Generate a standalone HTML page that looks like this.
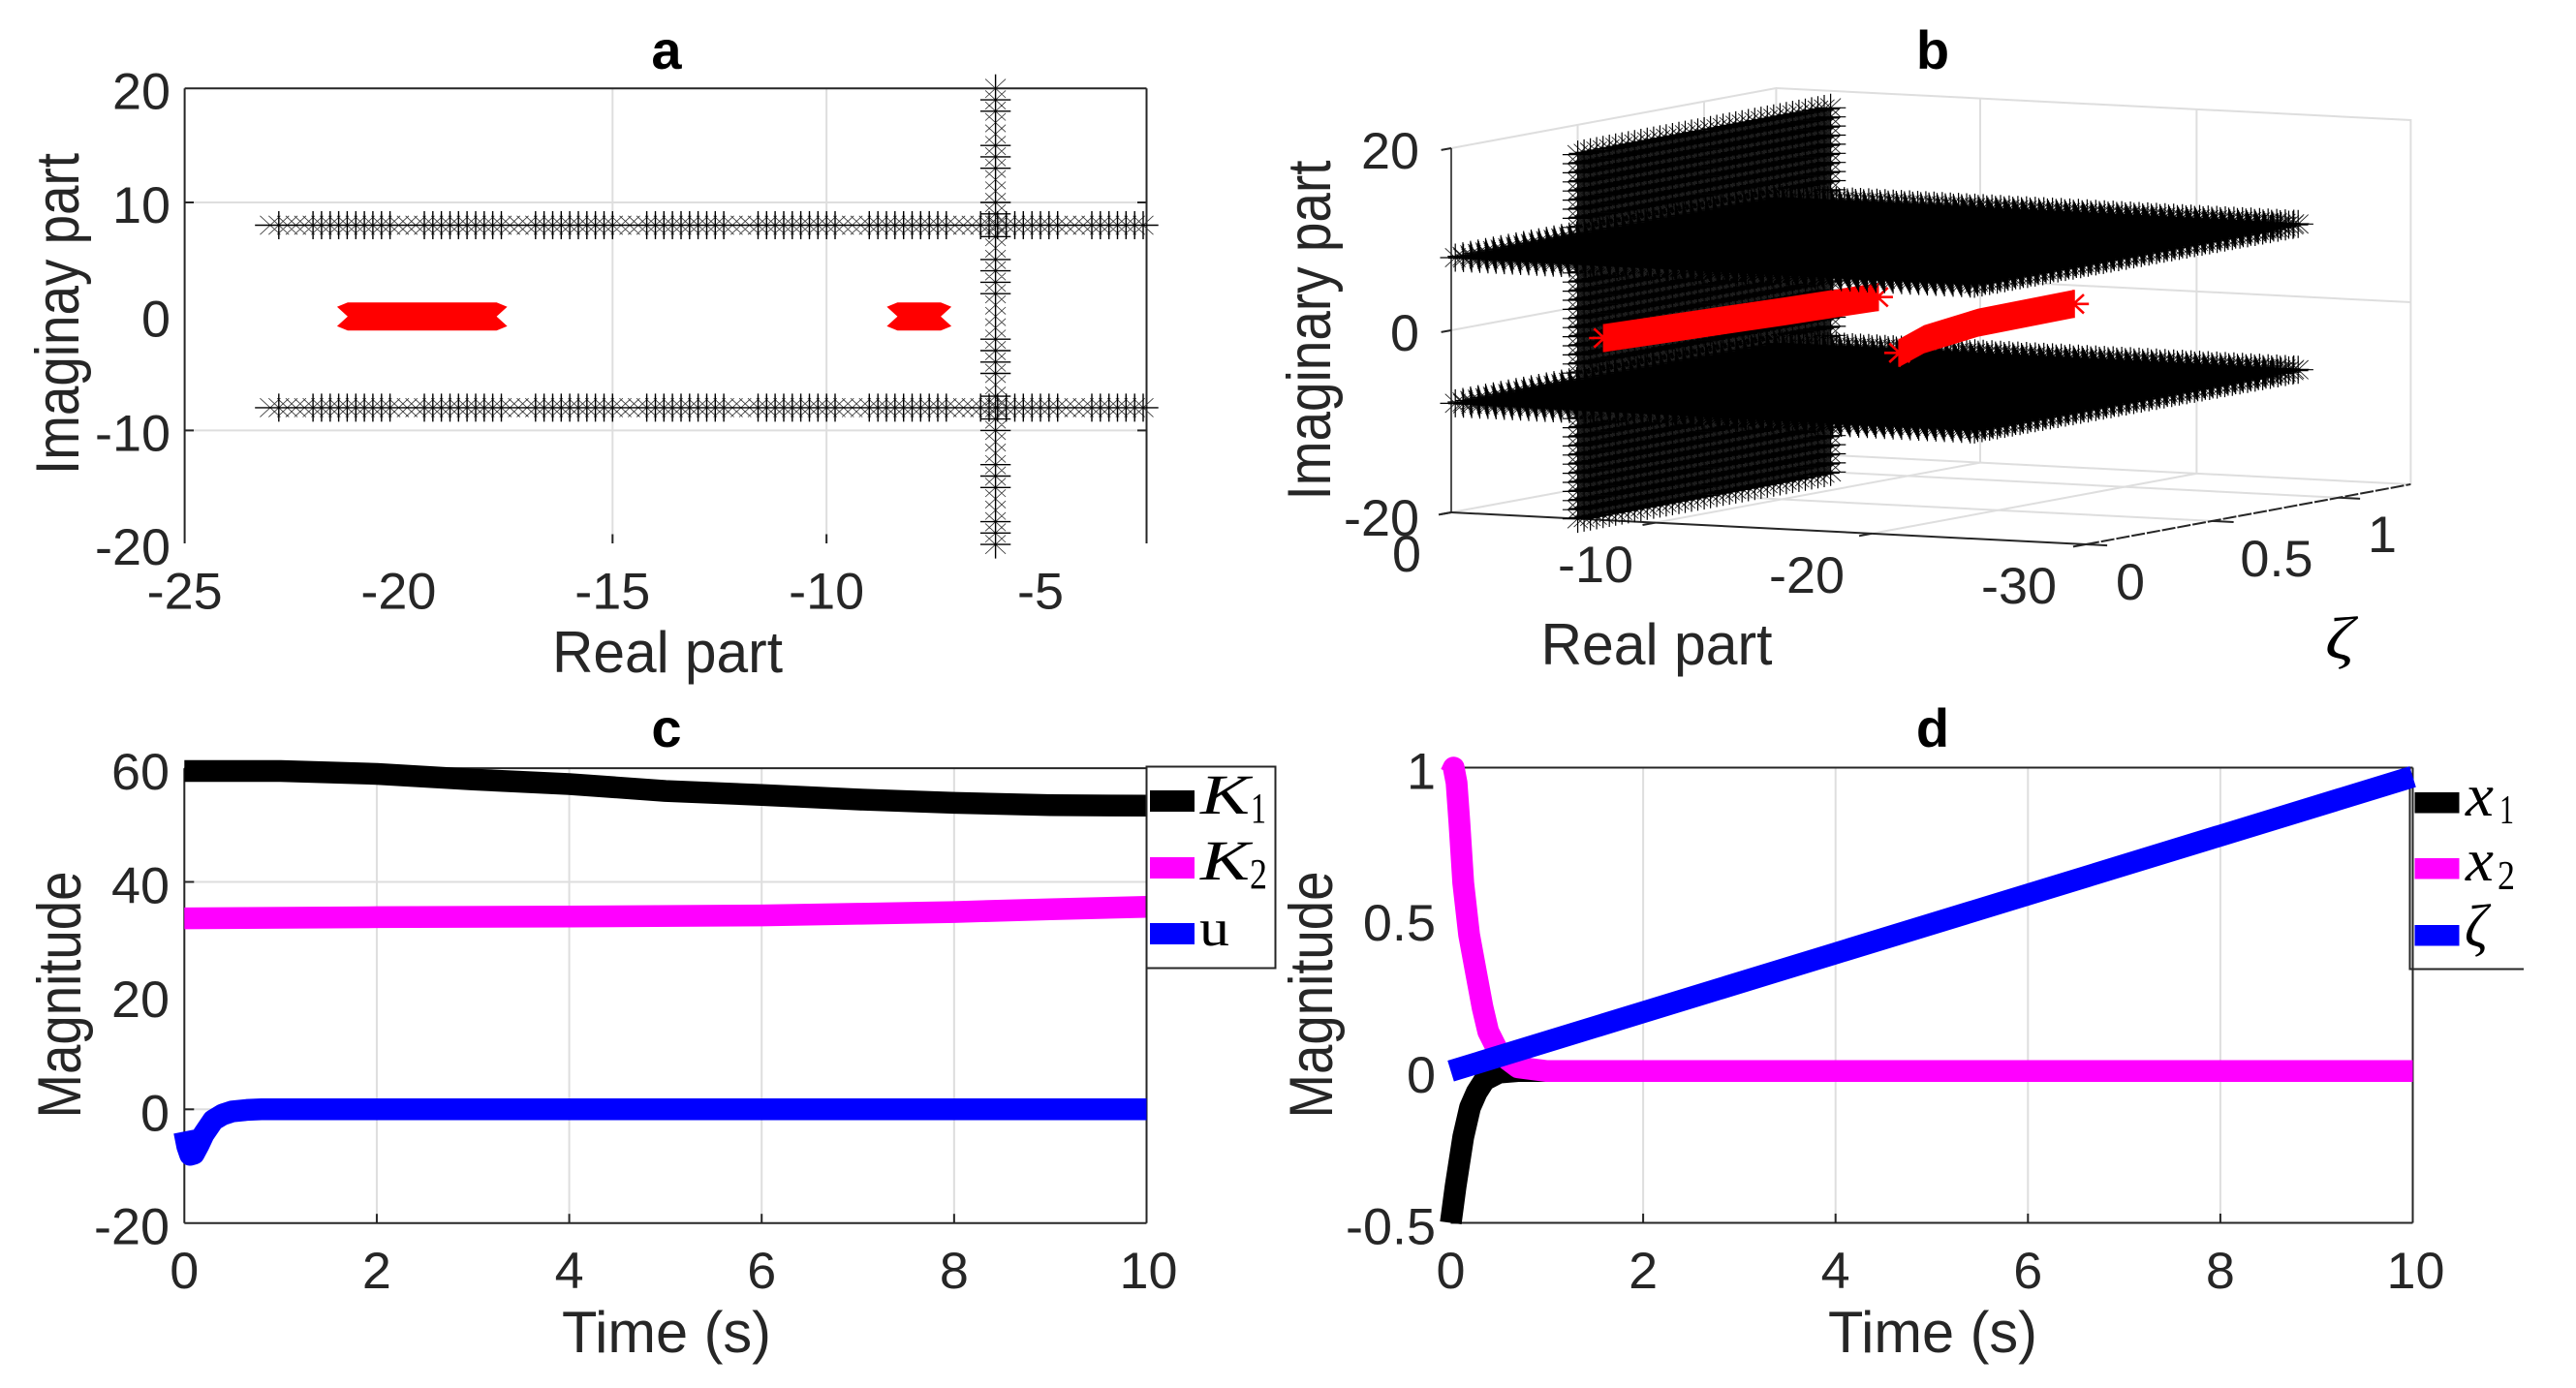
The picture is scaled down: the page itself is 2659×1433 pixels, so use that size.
<!DOCTYPE html>
<html lang="en">
<head>
<meta charset="utf-8">
<title>Eigenvalue and response plots</title>
<style>
html,body{margin:0;padding:0;background:#fff;}
svg{display:block;}
text{font-family:"Liberation Sans",sans-serif;fill:#262626;}
.ttl{font-weight:bold;font-size:56px;fill:#000;text-anchor:middle;}
.lab{font-size:60px;text-anchor:middle;}
.rot{font-size:63px;text-anchor:middle;}
.leg{font-family:"Liberation Serif",serif;fill:#000;}
.it{font-style:italic;}
</style>
</head>
<body>
<svg id="fig" xmlns="http://www.w3.org/2000/svg" width="2659" height="1433" viewBox="0 0 2659 1433">
<rect width="2659" height="1433" fill="#fff"/>
<g id="pa"></g>
<g id="pb"></g>
<g id="pc"></g>
<g id="pd"></g>

<g>
<text class="ttl" x="688" y="71">a</text>
<text class="lab" x="689" y="694" textLength="238" lengthAdjust="spacingAndGlyphs">Real part</text>
<text class="rot" transform="translate(81,324) rotate(-90)" textLength="332" lengthAdjust="spacingAndGlyphs">Imaginay part</text>
</g>
<g>
<text class="ttl" x="1995" y="71">b</text>
<text class="lab" x="1710" y="686" textLength="239" lengthAdjust="spacingAndGlyphs">Real part</text>
<text class="rot" transform="translate(1373,341) rotate(-90)" textLength="351" lengthAdjust="spacingAndGlyphs">Imaginary part</text>
<text class="leg it" x="2400" y="680" font-size="62" textLength="30" lengthAdjust="spacingAndGlyphs">ζ</text>
</g>
<g>
<text class="ttl" x="688" y="771">c</text>
<text class="lab" x="688" y="1396" textLength="216" lengthAdjust="spacingAndGlyphs">Time (s)</text>
<text class="rot" transform="translate(83,1027) rotate(-90)" textLength="255" lengthAdjust="spacingAndGlyphs">Magnitude</text>
</g>
<g>
<text class="ttl" x="1995" y="771">d</text>
<text class="lab" x="1995" y="1396" textLength="216" lengthAdjust="spacingAndGlyphs">Time (s)</text>
<text class="rot" transform="translate(1375,1027) rotate(-90)" textLength="255" lengthAdjust="spacingAndGlyphs">Magnitude</text>
</g>

<g id="legend-c">
<rect x="1183.5" y="791.5" width="133" height="208" fill="#fff" stroke="#262626" stroke-width="2"/>
<rect x="1187" y="816" width="46" height="22" fill="#000"/>
<rect x="1187" y="885" width="46" height="22" fill="#f0f"/>
<rect x="1187" y="953" width="46" height="22" fill="#00f"/>
<text class="leg it" x="1239" y="840" font-size="58" textLength="51" lengthAdjust="spacingAndGlyphs">K</text>
<text class="leg" x="1291" y="849" font-size="44" textLength="16" lengthAdjust="spacingAndGlyphs">1</text>
<text class="leg it" x="1239" y="908" font-size="58" textLength="51" lengthAdjust="spacingAndGlyphs">K</text>
<text class="leg" x="1290" y="917" font-size="44" textLength="18" lengthAdjust="spacingAndGlyphs">2</text>
<text class="leg" x="1238" y="976" font-size="54" textLength="31" lengthAdjust="spacingAndGlyphs">u</text>
</g>
<g id="legend-d">
<rect x="2488" y="800" width="117" height="200" fill="#fff"/>
<path d="M2487.5 792V1000.5H2605" fill="none" stroke="#262626" stroke-width="2"/>
<rect x="2492.5" y="818" width="46" height="21.5" fill="#000"/>
<rect x="2492.5" y="886" width="46" height="21.5" fill="#f0f"/>
<rect x="2492.5" y="955" width="46" height="21.5" fill="#00f"/>
<text class="leg it" x="2545" y="842" font-size="62" textLength="29" lengthAdjust="spacingAndGlyphs">x</text>
<text class="leg" x="2580" y="850" font-size="42" textLength="15" lengthAdjust="spacingAndGlyphs">1</text>
<text class="leg it" x="2545" y="909" font-size="62" textLength="29" lengthAdjust="spacingAndGlyphs">x</text>
<text class="leg" x="2578" y="918" font-size="42" textLength="18" lengthAdjust="spacingAndGlyphs">2</text>
<text class="leg it" x="2544" y="977" font-size="62" textLength="24" lengthAdjust="spacingAndGlyphs">ζ</text>
</g>
</svg>

<script>
/* ---------- panel a data ---------- */
const poleRowReal = [-23,-22.8,-22.6,-22.4,-22.2,-22,-21.8,-21.6,-21.4,-21.2,-21,-20.8,-20.6,-20.4,-20.2,-20,-19.8,-19.6,-19.4,-19.2,-19,-18.8,-18.6,-18.4,-18.2,-18,-17.8,-17.6,-17.4,-17.2,-17,-16.8,-16.6,-16.4,-16.2,-16,-15.8,-15.6,-15.4,-15.2,-15,-14.8,-14.6,-14.4,-14.2,-14,-13.8,-13.6,-13.4,-13.2,-13,-12.8,-12.6,-12.4,-12.2,-12,-11.8,-11.6,-11.4,-11.2,-11,-10.8,-10.6,-10.4,-10.2,-10,-9.8,-9.6,-9.4,-9.2,-9,-8.8,-8.6,-8.4,-8.2,-8,-7.8,-7.6,-7.4,-7.2,-7,-6.8,-6.6,-6.4,-6.2,-6,-5.8,-5.6,-5.4,-5.2,-5,-4.8,-4.6,-4.4,-4.2,-4,-3.8,-3.6,-3.4,-3.2,-3,-2.8,-2.6];
const poleRowImag = [8,-8];
const poleColumnReal = -6.05;
const poleColumnImag = [20,19,18,17,16,15,14,13,12,11,10,9,8,7,6,5,4,3,2,1,0,-1,-2,-3,-4,-5,-6,-7,-8,-9,-10,-11,-12,-13,-14,-15,-16,-17,-18,-19,-20];
const poleColumnBarImag = [19,18,15,14,13,10,9,7,5,4,3,2,-2,-3,-4,-5,-7,-9,-10,-13,-14,-15,-18,-19,-20];
const redBandsReal = [[-21.1,-17.8],[-8.25,-7.42]];
const aXTicks = [-25,-20,-15,-10,-5];
const aYTicks = [20,10,0,-10,-20];
const aXGrid = [-15,-10];
const aYGrid = [10,-10];

/* ---------- panel b data ---------- */
const bXTicks = [0,-10,-20,-30];
const bZTicks = [0,0.5,1];
const bYTicks = [20,0,-20];
const planeReal = -6.2;
const planeImag = [20,19,18,17,16,15,14,13,12,11,10,9,8,7,6,5,4,3,2,1,0,-1,-2,-3,-4,-5,-6,-7,-8,-9,-10,-11,-12,-13,-14,-15,-16,-17,-18,-19,-20];
const planeZeta = [0,0.025,0.05,0.075,0.1,0.125,0.15,0.175,0.2,0.225,0.25,0.275,0.3,0.325,0.35,0.375,0.4,0.425,0.45,0.475,0.5,0.525,0.55,0.575,0.6,0.625,0.65,0.675,0.7,0.725,0.75,0.775,0.8,0.825,0.85,0.875,0.9,0.925,0.95,0.975,1];
const sheetReal = [-0.2,-0.6,-1,-1.4,-1.8,-2.2,-2.6,-3,-3.4,-3.8,-4.2,-4.6,-5,-5.4,-5.8,-6.2,-6.6,-7,-7.4,-7.8,-8.2,-8.6,-9,-9.4,-9.8,-10.2,-10.6,-11,-11.4,-11.8,-12.2,-12.6,-13,-13.4,-13.8,-14.2,-14.6,-15,-15.4,-15.8,-16.2,-16.6,-17,-17.4,-17.8,-18.2,-18.6,-19,-19.4,-19.8,-20.2,-20.6,-21,-21.4,-21.8,-22.2,-22.6,-23,-23.4,-23.8,-24.2,-24.6,-24.8];
const sheetZeta = [0,0.03,0.06,0.09,0.12,0.15,0.18,0.21,0.24,0.27,0.3,0.33,0.36,0.39,0.42,0.45,0.48,0.51,0.54,0.57,0.6,0.63,0.66,0.69,0.72,0.75,0.78,0.81,0.84,0.87,0.9,0.93,0.96,0.99,1.02,1.05,1.08,1.11,1.14,1.17,1.2,1.23,1.26,1.28];
const sheetImag = [-8,8];
const redAReal = [-7.5,-8.2,-8.9,-9.5];
const redAZeta = [0,0.3,0.6,0.92];
const redBReal = [-21.3,-19.5,-18.2,-18];
const redBZeta = [0,0.25,0.575,0.97];

/* ---------- panel c data ---------- */
const cXTicks = [0,2,4,6,8,10];
const cYTicks = [60,40,20,0,-20];
const k1Time = [0,1,2,3,4,5,6,7,8,9,10];
const k1Values = [59.5,59.5,59,58,57.2,56,55.3,54.5,53.9,53.5,53.4];
const k2Time = [0,2,4,6,7,8,9,10];
const k2Values = [33.6,33.8,33.9,34.1,34.4,34.7,35.2,35.6];
const uTime = [0,0.03,0.06,0.1,0.15,0.2,0.3,0.4,0.5,0.65,0.8,1,10];
const uValues = [-3.9,-6.5,-8,-7.8,-6.2,-4.4,-1.9,-0.9,-0.35,-0.1,0,0,0];

/* ---------- panel d data ---------- */
const dXTicks = [0,2,4,6,8,10];
const dYTicks = [1,0.5,0,-0.5];
const x1Time = [0,0.05,0.13,0.2,0.27,0.35,0.5,0.7,1,10];
const x1Values = [-0.5,-0.38,-0.217,-0.12,-0.07,-0.03,-0.005,0,0,0];
const x2Time = [0,0.03,0.06,0.09,0.13,0.19,0.26,0.33,0.39,0.5,0.7,1,10];
const x2Values = [0.98,1,0.95,0.82,0.62,0.45,0.33,0.21,0.13,0.06,0.012,0,0];
const zetaTime = [0,2,4,6,8,10];
const zetaValues = [0,0.194,0.388,0.582,0.776,0.97];

const NS = 'http://www.w3.org/2000/svg';
const GRID = '#dedede', AXIS = '#262626';

function make(tag, parent, name, attrs) {
  const el = document.createElementNS(NS, tag);
  for (const k in attrs) el.setAttribute(k, attrs[k]);
  
  
  parent.appendChild(el);
  return el;
}
function seg(parent, name, x1, y1, x2, y2, color, w, extra) {
  return make('line', parent, name, Object.assign({x1:x1, y1:y1, x2:x2, y2:y2, stroke:color, 'stroke-width':w}, extra || {}));
}
const CW = {'-':0.333, '.':0.278};
function tickText(parent, name, str, x, y, anchor) {
  let w = 0;
  for (const c of str) w += (CW[c] || 0.556);
  const el = make('text', parent, name, {x:x, y:y, 'font-size':53, 'text-anchor':anchor, textLength:(w * 54).toFixed(1), lengthAdjust:'spacingAndGlyphs'});
  el.textContent = str;
  return el;
}
function polyPath(pts) {
  return pts.map((p, i) => (i ? 'L' : 'M') + p[0].toFixed(1) + ' ' + p[1].toFixed(1)).join('');
}
function diagArms(px, py) {
  return 'M' + (px-10.5).toFixed(1) + ' ' + (py-9.7).toFixed(1) + 'l21 19.4M' + (px-10.5).toFixed(1) + ' ' + (py+9.7).toFixed(1) + 'l21 -19.4';
}
function crossArms(px, py) {
  return 'M' + px.toFixed(1) + ' ' + (py-14.5).toFixed(1) + 'v29M' + (px-15.7).toFixed(1) + ' ' + py.toFixed(1) + 'h31.4';
}

/* ---------- panel a ---------- */
(function () {
  const g = document.getElementById('pa');
  const X = v => 190.6 + (v + 25) * 44.17;
  const Y = v => 326.7 - v * 11.77;
  const R = 1183.5, T = 91.3, B = 561;
  aXGrid.forEach(v => {
    seg(g, 'a-x-gridline', X(v), T, X(v), B, GRID, 2);
    seg(g, 'a-x-tick', X(v), B - 9.5, X(v), B, AXIS, 2);
  });
  aYGrid.forEach(v => {
    seg(g, 'a-y-gridline', 190.6, Y(v), R, Y(v), GRID, 2);
    seg(g, 'a-y-tick-left', 190.6, Y(v), 200, Y(v), AXIS, 2);
    seg(g, 'a-y-tick-right', R - 9.5, Y(v), R, Y(v), AXIS, 2);
  });
  seg(g, 'a-top-axis-line', 190.6, T, R, T, AXIS, 2);
  seg(g, 'a-y-axis-line', 190.6, T, 190.6, B, AXIS, 2);
  seg(g, 'a-right-axis-line', R, T, R, B, AXIS, 2);

  let diag = '', strong = '';
  poleRowImag.forEach(im => {
    poleRowReal.forEach((re, i) => {
      diag += diagArms(X(re), Y(im));
      const k = (i - 1 + 130) % 13;
      strong += 'M' + (X(re)-15.7).toFixed(1) + ' ' + Y(im).toFixed(1) + 'h31.4';
      if (i > 0 && !(k >= 1 && k <= 3)) strong += 'M' + X(re).toFixed(1) + ' ' + (Y(im)-14.5).toFixed(1) + 'v29';
    });
  });
  poleColumnImag.forEach(im => {
    const px = X(poleColumnReal);
    diag += diagArms(px, Y(im));
    strong += 'M' + px.toFixed(1) + ' ' + (Y(im)-14.5).toFixed(1) + 'v29';
    if (poleColumnBarImag.indexOf(im) >= 0) strong += 'M' + (px-15.7).toFixed(1) + ' ' + Y(im).toFixed(1) + 'h31.4';
  });
  make('path', g, 'a-black-pole-markers-diagonals', {d:diag, fill:'none', stroke:'#333', 'stroke-width':0.8});
  make('path', g, 'a-black-pole-markers-arms', {d:strong, fill:'none', stroke:'#000', 'stroke-width':1.4});

  redBandsReal.forEach(r => {
    const s = X(r[0]), e = X(r[1]), c = Y(0);
    const pts = [[s-4,c-14.5],[e+4,c-14.5],[e+15,c-10],[e+4,c],[e+15,c+10],[e+4,c+14.5],[s-4,c+14.5],[s-15,c+10],[s-4,c],[s-15,c-10]];
    make('polygon', g, 'a-red-pole-band', {points:pts.map(p => p[0].toFixed(1) + ',' + p[1].toFixed(1)).join(' '), fill:'#f00'});
  });

  aXTicks.forEach(v => tickText(g, 'a-x-tick-label', String(v), X(v), 628.5, 'middle'));
  aYTicks.forEach(v => tickText(g, 'a-y-tick-label', String(v), 176, Y(v) + 21, 'end'));
})();

/* ---------- panel b ---------- */
(function () {
  const g = document.getElementById('pb');
  const ZMAX = 1.285;
  function U(x) {
    const a = Math.abs(x);
    if (a <= 10) return a / 10 * 0.3215;
    if (a <= 20) return 0.3215 + (a - 10) / 10 * 0.3411;
    return 0.6626 + (a - 20) / 10 * 0.3374;
  }
  function P(x, z, y) {
    const u = U(x);
    return [1498 + u * 655 + z * 261, 341 - y * 9.4 + u * 33 - z * 48.25];
  }
  function polyline(name, pts, color, w, extra) {
    return make('path', g, name, Object.assign({d:polyPath(pts), fill:'none', stroke:color, 'stroke-width':w}, extra || {}));
  }
  const xl = bXTicks[bXTicks.length - 1];
  polyline('b-top-wall-edge', [P(0,0,20),P(0,ZMAX,20),P(xl,ZMAX,20),P(xl,ZMAX,-20)], GRID, 2);
  polyline('b-zero-wall-line', [P(0,0,0),P(0,ZMAX,0),P(xl,ZMAX,0)], GRID, 2);
  polyline('b-floor-back-edge', [P(0,0,-20),P(0,ZMAX,-20),P(xl,ZMAX,-20)], GRID, 2);
  polyline('b-back-corner-line', [P(0,ZMAX,20),P(0,ZMAX,-20)], GRID, 2);
  bXTicks.slice(1, 3).forEach(v => {
    polyline('b-back-wall-gridline', [P(v,ZMAX,20),P(v,ZMAX,-20)], GRID, 2);
    polyline('b-floor-x-gridline', [P(v,0,-20),P(v,ZMAX,-20)], GRID, 2);
  });
  bZTicks.slice(1).forEach(v => {
    polyline('b-side-wall-gridline', [P(0,v,20),P(0,v,-20)], GRID, 2);
    polyline('b-floor-z-gridline', [P(0,v,-20),P(xl,v,-20)], GRID, 2);
  });

  polyline('b-y-axis-line', [P(0,0,20),P(0,0,-20)], AXIS, 1.6);
  polyline('b-x-axis-line', [P(0,0,-20),P(xl,0,-20)], AXIS, 2);
  polyline('b-zeta-axis-line', [P(xl,0,-20),P(xl,ZMAX,-20)], AXIS, 2, {'stroke-dasharray':'14 2'});
  bYTicks.forEach(v => polyline('b-y-tick', [P(0,0,v),P(0,-0.04,v)], AXIS, 2));
  bXTicks.forEach(v => polyline('b-x-tick', [P(v,0,-20),P(v,-0.05,-20)], AXIS, 2));
  bZTicks.forEach(v => polyline('b-zeta-tick', [P(xl,v,-20),P(xl-1,v,-20)], AXIS, 2));

  function markerField(name, xs, zs, ys) {
    let diag = '', cross = '';
    ys.forEach(y => xs.forEach(x => zs.forEach(z => {
      const p = P(x, z, y);
      diag += diagArms(p[0], p[1]);
      cross += crossArms(p[0], p[1]);
    })));
    make('path', g, name + '-diagonals', {d:diag, fill:'none', stroke:'#222', 'stroke-width':0.9});
    make('path', g, name + '-arms', {d:cross, fill:'none', stroke:'#000', 'stroke-width':1.2});
  }
  const zA = planeZeta[0], zB = planeZeta[planeZeta.length - 1];
  const imA = planeImag[0], imB = planeImag[planeImag.length - 1];
  make('path', g, 'b-vertical-pole-plane-core', {d:polyPath([P(planeReal,zA,imA),P(planeReal,zB,imA),P(planeReal,zB,imB),P(planeReal,zA,imB)]) + 'Z', fill:'#141414'});
  markerField('b-vertical-pole-plane', [planeReal], planeZeta, planeImag);
  markerField('b-lower-pole-sheet', sheetReal, sheetZeta, [sheetImag[0]]);

  function redBand(name, reals, zetas) {
    const pts = reals.map((r, i) => P(r, zetas[i], 0));
    const top = pts.map(p => [p[0], p[1] - 14.5]);
    const bottom = pts.map(p => [p[0], p[1] + 14.5]).reverse();
    make('path', g, name, {d:polyPath(top.concat(bottom)) + 'Z', fill:'#f00'});
    [pts[0], pts[pts.length - 1]].forEach(p => {
      make('path', g, name + '-end-marker', {d:diagArms(p[0], p[1]) + crossArms(p[0], p[1]), fill:'none', stroke:'#f00', 'stroke-width':2.6});
    });
  }
  redBand('b-red-pole-band-right', redBReal, redBZeta);
  redBand('b-red-pole-band-left', redAReal, redAZeta);
  markerField('b-upper-pole-sheet', sheetReal, sheetZeta, [sheetImag[1]]);

  const xOffset = [[1452,590],[1647,601],[1865,612],[2084,623]];
  bXTicks.forEach((v, i) => tickText(g, 'b-x-tick-label', String(v), xOffset[i][0], xOffset[i][1], 'middle'));
  const zOffset = [[2199,619],[2350,595],[2459,570]];
  bZTicks.forEach((v, i) => tickText(g, 'b-zeta-tick-label', String(v), zOffset[i][0], zOffset[i][1], 'middle'));
  bYTicks.forEach(v => tickText(g, 'b-y-tick-label', String(v), 1465, 341 - v * 9.4 + (v === -20 ? 24 : 21), 'end'));
})();

/* ---------- panel c ---------- */
function drawLine(g, name, times, values, X, Y, color, w) {
  return make('path', g, name, {d:polyPath(times.map((t, i) => [X(t), Y(values[i])])), fill:'none', stroke:color, 'stroke-width':w, 'stroke-linejoin':'round', 'stroke-linecap':'butt'});
}
(function () {
  const g = document.getElementById('pc');
  const X = t => 190.3 + t * 99.32;
  const Y = v => 1145.3 - v * 5.87;
  const R = X(10), T = Y(60), B = Y(-20);
  [2,4,6,8].forEach(t => {
    seg(g, 'c-x-gridline', X(t), T, X(t), B, GRID, 2);
    seg(g, 'c-x-tick', X(t), B - 9.5, X(t), B, AXIS, 2);
  });
  [40,0].forEach(v => {
    seg(g, 'c-y-gridline', X(0), Y(v), R, Y(v), GRID, 2);
    seg(g, 'c-y-tick', X(0), Y(v), X(0) + 10, Y(v), AXIS, 2);
  });
  seg(g, 'c-top-axis-line', X(0), T, R, T, AXIS, 2);
  seg(g, 'c-bottom-axis-line', X(0), B, R, B, AXIS, 2);
  seg(g, 'c-y-axis-line', X(0), T, X(0), B, AXIS, 2);
  seg(g, 'c-right-axis-line', R, T, R, B, AXIS, 2);
  drawLine(g, 'c-k1-line', k1Time, k1Values, X, Y, '#000', 22.5);
  drawLine(g, 'c-k2-line', k2Time, k2Values, X, Y, '#f0f', 22.5);
  drawLine(g, 'c-u-line', uTime, uValues, X, Y, '#00f', 22.5);
  cXTicks.forEach(t => tickText(g, 'c-x-tick-label', String(t), X(t) + (t === 10 ? 2 : 0), 1330, 'middle'));
  cYTicks.forEach(v => tickText(g, 'c-y-tick-label', String(v), 175, Y(v) + 22, 'end'));
})();

/* ---------- panel d ---------- */
(function () {
  const g = document.getElementById('pd');
  const X = t => 1497.5 + t * 99.3;
  const Y = v => 1105.8 - v * 313.3;
  const R = X(10), T = Y(1), B = Y(-0.5);
  [2,4,6,8].forEach(t => {
    seg(g, 'd-x-gridline', X(t), T, X(t), B, GRID, 2);
    seg(g, 'd-x-tick', X(t), B - 9.5, X(t), B, AXIS, 2);
  });
  seg(g, 'd-top-axis-line', X(0), T, R, T, AXIS, 2);
  seg(g, 'd-bottom-axis-line', X(0), B, R, B, AXIS, 2);
  seg(g, 'd-right-axis-line', R, T, R, B, AXIS, 2);
  drawLine(g, 'd-x1-line', x1Time, x1Values, X, Y, '#000', 22.5);
  drawLine(g, 'd-x2-line', x2Time, x2Values, X, Y, '#f0f', 22.5);
  drawLine(g, 'd-zeta-line', zetaTime, zetaValues, X, Y, '#00f', 22.5);
  dXTicks.forEach(t => tickText(g, 'd-x-tick-label', String(t), X(t) + (t === 10 ? 3 : 0), 1330, 'middle'));
  dYTicks.forEach(v => tickText(g, 'd-y-tick-label', String(v), 1482, Y(v) + 22, 'end'));
})();

/* keep the legends above the plotted lines */
const fig = document.getElementById('fig');
fig.appendChild(document.getElementById('legend-c'));
fig.insertBefore(document.getElementById('legend-d'), document.getElementById('pd'));
</script>
</body>
</html>
